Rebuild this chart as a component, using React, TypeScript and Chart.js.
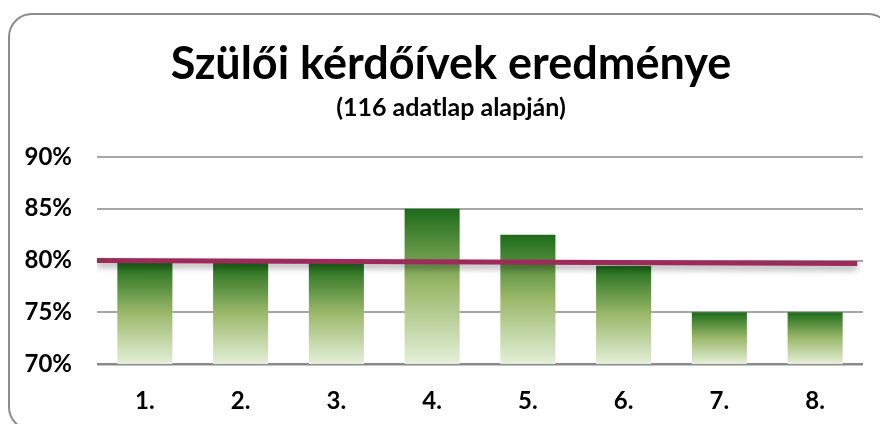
import React, { useEffect, useRef } from "react";
import { Chart, registerables } from "chart.js";

Chart.register(...registerables);

const titleText = "Szülői kérdőívek eredménye";
const subtitleText = "(116 adatlap alapján)";
const categories = ["1.", "2.", "3.", "4.", "5.", "6.", "7.", "8."];
const barValues = [79.8, 79.8, 79.8, 85, 82.5, 79.5, 75, 75];
const lineX = [0, 7.94];
const lineValues = [80.0, 79.7];
const yMin = 70;
const yMax = 90;
const yStep = 5;

const FONT = "Lato, 'Open Sans', sans-serif";
const CANVAS_W = 902;

export default function App() {
  const ref = useRef<HTMLCanvasElement | null>(null);

  useEffect(() => {
    document.body.style.overflow = "hidden";
    const canvas = ref.current;
    if (!canvas) return;

    const shadowPlugin = {
      id: "lineShadow",
      beforeDatasetDraw(chart: any, args: any) {
        if (args.index === 1) {
          const ctx = chart.ctx;
          ctx.save();
          ctx.shadowColor = "rgba(0,0,0,0.35)";
          ctx.shadowBlur = 6;
          ctx.shadowOffsetY = 4;
        }
      },
      afterDatasetDraw(chart: any, args: any) {
        if (args.index === 1) chart.ctx.restore();
      },
    };

    const chart = new Chart(canvas, {
      type: "bar",
      data: {
        datasets: [
          {
            type: "bar",
            data: categories.map((_, i) => ({ x: i + 0.5, y: barValues[i] })),
            order: 1,
            categoryPercentage: 1,
            barPercentage: 0.575,
            backgroundColor: (c: any) => {
              const ch = c.chart;
              const ys = ch.scales?.y;
              const v = c.raw && typeof c.raw === "object" ? c.raw.y : undefined;
              if (!ys || v === undefined) return "#6a9a4a";
              const top = ys.getPixelForValue(v);
              const bottom = ys.getPixelForValue(yMin);
              if (!isFinite(top) || !isFinite(bottom) || bottom - top < 1) return "#6a9a4a";
              const g = ch.ctx.createLinearGradient(0, top, 0, bottom);
              g.addColorStop(0, "#1c6b19");
              g.addColorStop(0.5, "#9cb96b");
              g.addColorStop(1, "#e4efd9");
              return g;
            },
            borderWidth: 0,
          } as any,
          {
            type: "line",
            data: lineX.map((x, i) => ({ x, y: lineValues[i] })),
            order: 0,
            borderColor: "#9c2a5a",
            borderWidth: 5,
            pointRadius: 0,
            tension: 0,
            fill: false,
          } as any,
        ],
      },
      options: {
        animation: false,
        responsive: false,
        maintainAspectRatio: false,
        layout: { padding: { left: 0, right: 0, top: 0, bottom: 0 } },
        plugins: {
          legend: { display: false },
          tooltip: { enabled: false },
          title: {
            display: true,
            text: titleText,
            color: "#000",
            font: { family: FONT, size: 45, weight: "bold" },
            padding: { top: 37, bottom: 0 },
          },
          subtitle: {
            display: true,
            text: subtitleText,
            color: "#000",
            font: { family: FONT, size: 25, weight: "bold" },
            padding: { top: 2, bottom: 34 },
          },
        },
        scales: {
          x: {
            type: "linear",
            offset: false,
            min: 0,
            max: categories.length,
            grid: { display: false, offset: false },
            border: { display: false },
            afterBuildTicks: (s: any) => {
              s.ticks = categories.map((_, i) => ({ value: i + 0.5 }));
            },
            ticks: {
              autoSkip: false,
              color: "#000",
              font: { family: FONT, size: 24, weight: "bold" },
              padding: 15,
              maxRotation: 0,
              callback: (_v: any, i: number) => categories[i],
            },
            afterFit: (s: any) => {
              s.height = 60;
            },
          },
          y: {
            type: "linear",
            position: "left",
            min: yMin,
            max: yMax,
            border: { display: false },
            grid: {
              drawTicks: false,
              color: (c: any) => (c.tick && c.tick.value === yMin ? "#8a8a8a" : "#a6a6a6"),
              lineWidth: (c: any) => (c.tick && c.tick.value === yMin ? 2.5 : 2),
            },
            ticks: {
              stepSize: yStep,
              color: "#000",
              font: { family: FONT, size: 24, weight: "bold" },
              padding: 25,
              callback: (v: any) => v + "%",
            },
            afterFit: (s: any) => {
              s.width = 97;
            },
          },
          yRightSpacer: {
            type: "linear",
            axis: "y",
            position: "right",
            display: true,
            grid: { display: false, drawTicks: false },
            border: { display: false },
            ticks: { display: false },
            afterFit: (s: any) => {
              s.width = CANVAS_W - 863;
            },
          },
        },
      } as any,
      plugins: [shadowPlugin],
    });

    return () => chart.destroy();
  }, []);

  return (
    <div style={{ position: "fixed", left: 0, top: 0, width: 880, height: 424, overflow: "hidden", background: "#fff" }}>
      <div
        style={{
          position: "absolute",
          left: 8,
          top: 13,
          width: 884,
          height: 418,
          border: "2px solid #8c8c8c",
          borderRadius: 24,
          boxSizing: "border-box",
        }}
      />
      <canvas
        ref={ref}
        width={CANVAS_W}
        height={424}
        style={{ position: "absolute", left: 0, top: 0, width: CANVAS_W, height: 424 }}
      />
    </div>
  );
}
